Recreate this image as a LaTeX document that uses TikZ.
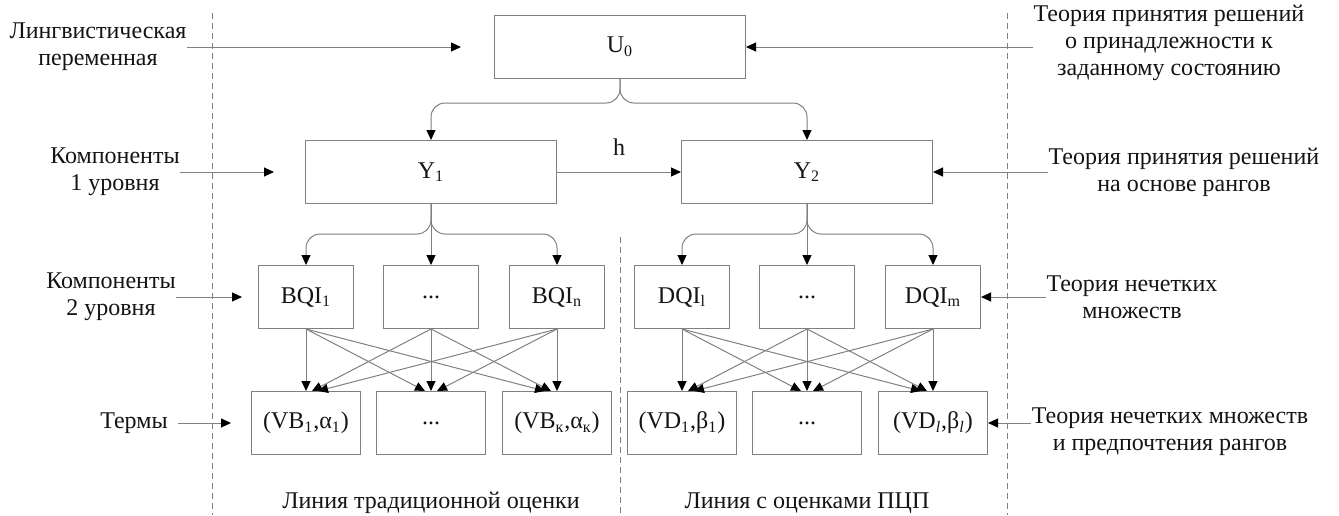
\documentclass[tikz,border=0pt]{standalone}
\usepackage{fontspec}
\setmainfont{Liberation Serif}
\usetikzlibrary{arrows.meta}
\definecolor{lgray}{RGB}{128,128,128}
\definecolor{ink}{RGB}{20,20,20}
\tikzset{
  arr/.style={draw=lgray,line width=0.5pt,-{Triangle[length=5pt,width=4.5pt,color=black]}},
  bx/.style={draw=lgray,line width=0.5pt,inner sep=0pt,minimum height=31.5pt,text=ink,font=\fontsize{12}{13.5}\selectfont},
  wbx/.style={bx,minimum width=125.5pt},
  qbx/.style={bx,minimum width=47.5pt},
  tbx/.style={bx,minimum width=54.5pt},
  lbl/.style={align=center,inner sep=0pt,text=ink,font=\fontsize{12}{13.5}\selectfont},
  sep/.style={draw=lgray,densely dashed,line width=0.4pt}
}

\begin{document}
\begin{tikzpicture}[x=0.5pt,y=-0.5pt]
  \useasboundingbox (0,0) rectangle (1339,515);
  \draw[sep] (212,13) -- (212,515); \draw[sep] (1007,13) -- (1007,515); \draw[sep] (620,237) -- (620,515);
  % levels
  \node[wbx] (U0) at (620,47) {U\textsubscript{0}};
  \node[wbx] (Y1) at (431,172) {Y\textsubscript{1}}; \node[wbx] (Y2) at (807,172) {Y\textsubscript{2}};
  \node[qbx] (b1) at (306,297) {BQI\textsubscript{1}}; \node[qbx] (b2) at (431,297) {...}; \node[qbx] (b3) at (557,297) {BQI\textsubscript{n}};
  \node[qbx] (d1) at (682,297) {DQI\textsubscript{l}}; \node[qbx] (d2) at (807,297) {...}; \node[qbx] (d3) at (933,297) {DQI\textsubscript{m}};
  \node[tbx] (vb1) at (306,423) {(VB\textsubscript{1},α\textsubscript{1})}; \node[tbx] (vb2) at (431,423) {...}; \node[tbx] (vb3) at (557,423) {(VB\textsubscript{к},α\textsubscript{к})};
  \node[tbx] (vd1) at (682,423) {(VD\textsubscript{1},β\textsubscript{1})}; \node[tbx] (vd2) at (807,423) {...}; \node[tbx] (vd3) at (933,423) {(VD\textsubscript{\textit{l}},β\textsubscript{\textit{l}})};
  % tree
  \draw[arr,rounded corners=7pt] (U0.south) -- ++(0,24) -| (Y1.north); \draw[arr,rounded corners=7pt] (U0.south) -- ++(0,24) -| (Y2.north);
  \draw[arr] (Y1) -- node[lbl,above=8pt] (h) {h} (Y2);
  \foreach \p/\c in {Y1/b,Y2/d}{
    \draw[arr,rounded corners=7pt] (\p.south) -- ++(0,30) -| (\c1.north); \draw[arr] (\p.south) -- (\c2.north);
    \draw[arr,rounded corners=7pt] (\p.south) -- ++(0,30) -| (\c3.north);
  }
  \foreach \c/\t in {b/vb,d/vd}
    \foreach \i in {1,2,3}
      \foreach \j in {1,2,3}
        \draw[arr] (\c\i.south) -- ([xshift={3pt*(\i-\j)}]\t\j.north);
  % side notes
  \node[lbl] (lv) at (98,47) {Лингвистическая\\переменная}; \draw[arr,shorten >=16.5pt] (lv.east) -- (U0.west);
  \node[lbl] (k1) at (115,172) {Компоненты\\1 уровня}; \draw[arr,shorten >=15.5pt] (k1.east) -- (Y1.west);
  \node[lbl] (k2) at (111,297) {Компоненты\\2 уровня}; \draw[arr,shorten >=8pt] (k2.east) -- (b1.west);
  \node[lbl] (tm) at (134,423) {Термы}; \draw[arr,shorten <=5pt,shorten >=10pt] (tm.east) -- (vb1.west);
  \node[lbl] (r1) at (1169,43) {Теория принятия решений\\о принадлежности к\\заданному состоянию}; \draw[arr] (r1.west |- U0.east) -- (U0.east);
  \node[lbl] (r2) at (1184,172) {Теория принятия решений\\на основе рангов}; \draw[arr] (r2.west) -- (Y2.east);
  \node[lbl] (r3) at (1132,297) {Теория нечетких\\множеств}; \draw[arr] (r3.west) -- (d3.east);
  \node[lbl] (r4) at (1170,432) {Теория нечетких множеств\\и предпочтения рангов}; \draw[arr] (r4.west |- vd3.east) -- (vd3.east);
  \node[lbl] (ln1) at (431,503) {Линия традиционной оценки}; \node[lbl] (ln2) at (807,503) {Линия с оценками ПЦП};
\end{tikzpicture}
\end{document}
